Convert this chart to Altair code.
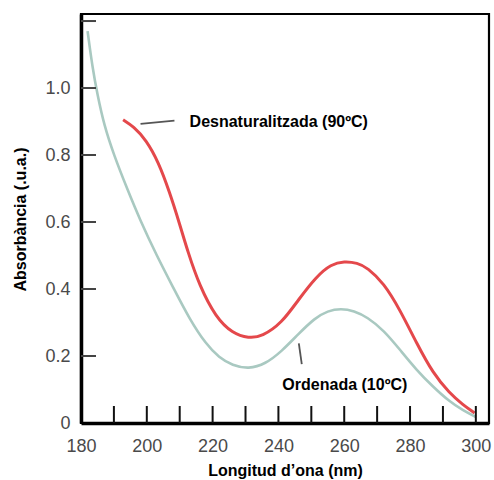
import altair as alt
import pandas as pd

# Ordenada (10ºC) curve
ord_wl = [182, 183.5, 185, 187, 190, 194, 198, 203, 208, 213, 218, 222, 226, 231, 236, 241, 246, 251, 255, 259, 263, 267, 272, 277, 282, 287, 292, 296, 300]
ord_abs = [1.17, 1.06, 0.98, 0.89, 0.80, 0.70, 0.605, 0.50, 0.405, 0.31, 0.235, 0.195, 0.172, 0.161, 0.176, 0.214, 0.265, 0.313, 0.335, 0.342, 0.335, 0.316, 0.277, 0.218, 0.158, 0.108, 0.064, 0.038, 0.018]

# Desnaturalitzada (90ºC) curve
den_wl = [192.8, 196, 199.8, 203.5, 206.9, 209.9, 212.5, 216, 221, 226, 231, 235, 241, 246, 251.5, 256, 260, 264, 267, 272, 277, 282, 287, 292, 296, 299.6]
den_abs = [0.905, 0.885, 0.845, 0.78, 0.69, 0.597, 0.51, 0.41, 0.315, 0.268, 0.253, 0.258, 0.298, 0.367, 0.437, 0.474, 0.483, 0.478, 0.464, 0.418, 0.337, 0.238, 0.148, 0.089, 0.055, 0.03]

x_labels = [180, 200, 220, 240, 260, 280, 300]
x_ticks = [190, 200, 210, 220, 230, 240, 250, 260, 270, 280, 290, 300]
y_labels = [0, 0.2, 0.4, 0.6, 0.8, 1.0]
y_ticks = [0.2, 0.4, 0.6, 0.8, 1.0, 1.2]

ann_text = ["Desnaturalitzada (90ºC)", "Ordenada (10ºC)"]
ann_x = [213, 241.2]
ann_y = [0.90, 0.113]

lead_x = [198.1, 246.2]
lead_x2 = [208.4, 247.1]
lead_y = [0.893, 0.238]
lead_y2 = [0.903, 0.176]

W, H = 408, 409
FONT = "Liberation Sans"

xs = alt.Scale(domain=[180, 304], nice=False, zero=False)
ys = alt.Scale(domain=[0, 1.221], nice=False)

df_ord = pd.DataFrame({"wl": ord_wl, "a": ord_abs})
df_den = pd.DataFrame({"wl": den_wl, "a": den_abs})

xaxis = alt.Axis(values=x_labels, ticks=False, tickSize=0, grid=False, domain=True,
                 domainColor="black", domainWidth=3.5, labelPadding=14, labelFlush=False,
                 labelFont=FONT, labelFontSize=18, labelColor="#4a4a4a",
                 title="Longitud d’ona (nm)", titleFont=FONT, titleFontSize=16,
                 titleFontWeight="bold", titleColor="black", titleBaseline="alphabetic",
                 titleY=52)
yaxis = alt.Axis(values=y_labels, ticks=False, tickSize=0, grid=False, domain=True,
                 domainColor="black", domainWidth=3.5, labelPadding=11, labelFlush=False,
                 labelFont=FONT, labelFontSize=18, labelColor="#4a4a4a",
                 labelExpr="datum.value == 0 ? '0' : format(datum.value, '.1f')",
                 title="Absorbància (.u.a.)", titleFont=FONT, titleFontSize=16,
                 titleFontWeight="bold", titleColor="black", titleX=-61, titleY=205,
                 titleAngle=270, titleAlign="center", titleBaseline="middle")

green = alt.Chart(df_ord).mark_line(color="#a9c9c1", strokeWidth=2.6, interpolate="basis").encode(
    x=alt.X("wl:Q", scale=xs, axis=xaxis),
    y=alt.Y("a:Q", scale=ys, axis=yaxis),
)
red = alt.Chart(df_den).mark_line(color="#e4484b", strokeWidth=3, interpolate="basis").encode(
    x=alt.X("wl:Q", scale=xs),
    y=alt.Y("a:Q", scale=ys),
)

xt = alt.Chart(pd.DataFrame({"t": x_ticks})).mark_rule(color="#111", strokeWidth=2).encode(
    x=alt.X("t:Q", scale=xs),
    y=alt.value(H),
    y2=alt.value(H - 17),
)
yt = alt.Chart(pd.DataFrame({"t": y_ticks})).mark_rule(color="#444", strokeWidth=2).encode(
    y=alt.Y("t:Q", scale=ys),
    x=alt.value(0),
    x2=alt.value(15),
)

ann_df = pd.DataFrame({"txt": ann_text, "x": ann_x, "y": ann_y})
ann = alt.Chart(ann_df).mark_text(align="left", baseline="middle", font=FONT,
                                  fontSize=16, fontWeight="bold", color="black").encode(
    x=alt.X("x:Q", scale=xs),
    y=alt.Y("y:Q", scale=ys),
    text="txt:N",
)
lead_df = pd.DataFrame({"x": lead_x, "x2": lead_x2, "y": lead_y, "y2": lead_y2})
lead = alt.Chart(lead_df).mark_rule(color="#555", strokeWidth=1.8).encode(
    x=alt.X("x:Q", scale=xs),
    x2="x2:Q",
    y=alt.Y("y:Q", scale=ys),
    y2="y2:Q",
)

chart = alt.layer(green, red, xt, yt, lead, ann).properties(
    width=W, height=H,
    padding={"left": 81, "top": 14, "right": 5, "bottom": 57},
    autosize="none",
    background="white",
).configure_view(stroke="black", strokeWidth=2.2)

chart.save("out.html", embed_options={"renderer": "svg", "actions": False})
